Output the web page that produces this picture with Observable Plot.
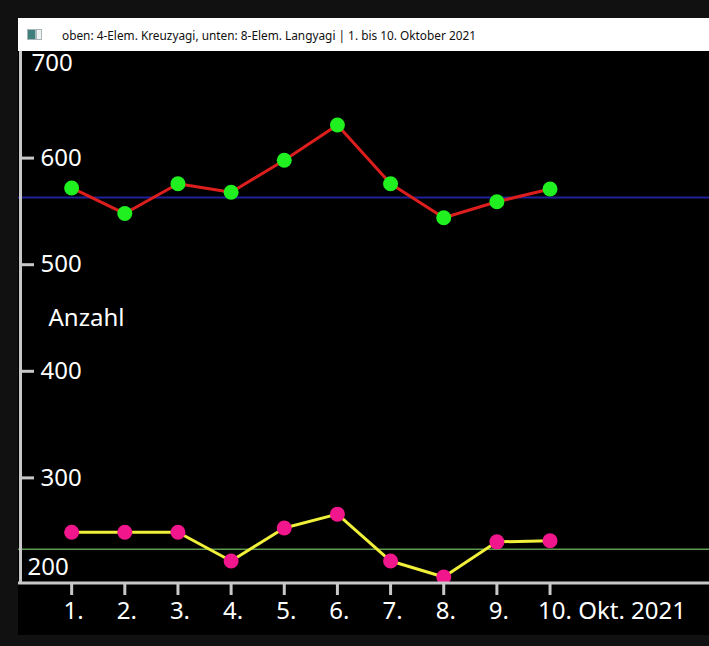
<!DOCTYPE html>
<html><head><meta charset="utf-8">
<script src="https://cdn.jsdelivr.net/npm/d3@7"></script>
<script src="https://cdn.jsdelivr.net/npm/@observablehq/plot@0.6"></script>
<style>
html,body{margin:0;padding:0;background:#111;width:709px;height:646px;overflow:hidden;}
#win{position:absolute;left:18px;top:18px;width:691px;}
#titlebar{height:33px;background:#fff;position:relative;}
#icon{position:absolute;left:9px;top:11px;width:13px;height:9px;border:1px solid #a9b4b4;
  background:linear-gradient(90deg,#3f7f7c 0 55%,#a8bcbb 55% 68%,#eef2f2 68%);}
#title{position:absolute;left:44px;top:0;}
#chart svg{display:block;}
</style></head>
<body>
<div id="win">
  <div id="titlebar"><div id="icon"></div><svg id="title" width="600" height="33"></svg></div>
  <div id="chart"></div>
</div>
<script>
const titleText = "oben: 4-Elem. Kreuzyagi, unten: 8-Elem. Langyagi | 1. bis 10. Oktober 2021";
const days = [1, 2, 3, 4, 5, 6, 7, 8, 9, 10];
const dayLabels = ["1.", "2.", "3.", "4.", "5.", "6.", "7.", "8.", "9.", "10."];
const monthLabel = "Okt. 2021";
const upper = [572, 548, 576, 568, 598, 631, 576, 544, 559, 571];   // 4-Elem. Kreuzyagi
const lower = [249, 249, 249, 222, 253, 266, 222, 207, 240, 241];   // 8-Elem. Langyagi
const upperRef = [563];
const lowerRef = [233];
const yTickValues = [300, 400, 500, 600];
const yLabelValues = [200, 300, 400, 500, 600, 700];
const yAxisTitle = "Anzahl";

// title
const ts = d3.select("#title");
ts.append("text").attr("x", 0).attr("y", 17).attr("dominant-baseline", "central")
  .attr("font-family", "Noto Sans").attr("font-size", 12).attr("fill", "#111")
  .attr("textLength", 414).attr("lengthAdjust", "spacingAndGlyphs").text(titleText);

const W = 691, H = 584;
const data = days.map((d, i) => ({day: d, upper: upper[i], lower: lower[i]}));
const axisColor = "#c8c8c8";
const fs = 24;

const chart = Plot.plot({
  width: W, height: H,
  marginTop: 0, marginLeft: 0, marginRight: 0, marginBottom: 51,
  x: {type: "linear", domain: [0, 13], axis: null},
  y: {type: "linear", domain: [200, 700], axis: null},
  style: {background: "#000", fontFamily: "Noto Sans", overflow: "visible"},
  marks: [
    Plot.ruleY(upperRef, {y: d => d, stroke: "#20209a", strokeWidth: 2}),
    Plot.ruleY(lowerRef, {y: d => d, stroke: "#5c9a50", strokeWidth: 1.5}),
    Plot.line(data, {x: "day", y: "upper", stroke: "#dc1e1c", strokeWidth: 3}),
    Plot.line(data, {x: "day", y: "lower", stroke: "#f0f03a", strokeWidth: 3}),
    Plot.dot(data, {x: "day", y: "upper", r: 7.5, fill: "#20ef20"}),
    Plot.dot(data, {x: "day", y: "lower", r: 7.5, fill: "#f2168c"}),
    Plot.ruleX([0], {x: d => d, dx: 2, stroke: axisColor, strokeWidth: 3}),
    Plot.ruleY([200], {y: d => d, dy: -1.5, stroke: axisColor, strokeWidth: 3}),
    Plot.tickY(yTickValues, {y: d => d, insetLeft: 2, insetRight: W - 16, stroke: axisColor, strokeWidth: 3}),
    Plot.tickX(days, {x: d => d, insetTop: H - 51, insetBottom: -11, stroke: axisColor, strokeWidth: 3}),
    Plot.text(yLabelValues.filter(v => v > 200 && v < 700), {y: d => d, text: d => String(d), frameAnchor: "left", dx: 22, textAnchor: "start", fill: "#fff", fontSize: fs}),
    Plot.text(yLabelValues.filter(v => v === 700), {y: d => d, text: d => String(d), frameAnchor: "left", dx: 13, dy: 12, textAnchor: "start", fill: "#fff", fontSize: fs}),
    Plot.text(yLabelValues.filter(v => v === 200), {y: d => d, text: d => String(d), frameAnchor: "left", dx: 9, dy: -17.5, textAnchor: "start", fill: "#fff", fontSize: fs}),
    Plot.text([yAxisTitle], {frameAnchor: "left", dx: 30, textAnchor: "start", fill: "#fff", fontSize: fs}),
    Plot.text(days.slice(0, 9), {x: d => d, text: (d, i) => dayLabels[i], frameAnchor: "bottom", dy: 34, dx: 2, fill: "#fff", fontSize: fs}),
    Plot.text(days.slice(9), {x: d => d, text: () => dayLabels[9] + " " + monthLabel, frameAnchor: "bottom", dy: 34, dx: -12, textAnchor: "start", fill: "#fff", fontSize: fs})
  ]
});
document.getElementById("chart").appendChild(chart);
</script>
</body></html>
